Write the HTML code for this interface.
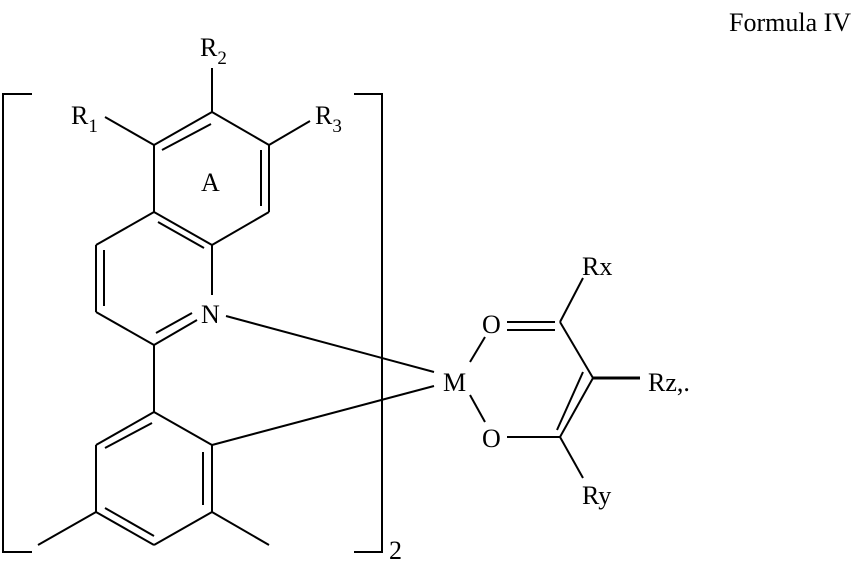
<!DOCTYPE html>
<html><head><style>
html,body{margin:0;padding:0;background:#fff;}
svg{display:block;}
svg text{font-family:"Liberation Serif","DejaVu Serif","Times New Roman",serif;font-size:26px;fill:#000;}
</style></head><body>
<svg width="868" height="561" viewBox="0 0 868 561" xmlns="http://www.w3.org/2000/svg" font-family="Liberation Serif, DejaVu Serif, serif">
<g stroke="#000" stroke-width="2" fill="none" stroke-linecap="butt">
<polyline points="32,94 3,94 3,552 32,552"/>
<polyline points="354,94 382,94 382,552 354,552"/>
<line x1="212" y1="68" x2="212" y2="112"/>
<line x1="154" y1="145" x2="212" y2="112"/>
<line x1="212" y1="112" x2="269" y2="145"/>
<line x1="269" y1="145" x2="269" y2="212"/>
<line x1="269" y1="212" x2="212" y2="245"/>
<line x1="212" y1="245" x2="154" y2="212"/>
<line x1="154" y1="212" x2="154" y2="145"/>
<line x1="162" y1="150" x2="211" y2="124"/>
<line x1="261" y1="150" x2="261" y2="206"/>
<line x1="158" y1="222" x2="204" y2="248"/>
<line x1="105" y1="117" x2="154" y2="145"/>
<line x1="269" y1="145" x2="310" y2="121"/>
<line x1="154" y1="212" x2="96" y2="245"/>
<line x1="96" y1="245" x2="96" y2="312"/>
<line x1="104" y1="250" x2="104" y2="306"/>
<line x1="96" y1="312" x2="154" y2="345"/>
<line x1="154" y1="345" x2="197" y2="320"/>
<line x1="156" y1="333" x2="192" y2="313"/>
<line x1="212" y1="245" x2="212" y2="295"/>
<line x1="226" y1="316" x2="434" y2="372"/>
<line x1="154" y1="345" x2="154" y2="412"/>
<line x1="154" y1="412" x2="212" y2="445"/>
<line x1="212" y1="445" x2="212" y2="512"/>
<line x1="212" y1="512" x2="154" y2="545"/>
<line x1="154" y1="545" x2="96" y2="512"/>
<line x1="96" y1="512" x2="96" y2="445"/>
<line x1="96" y1="445" x2="154" y2="412"/>
<line x1="105" y1="448" x2="152" y2="423"/>
<line x1="203" y1="452" x2="203" y2="505"/>
<line x1="105" y1="508" x2="154" y2="536"/>
<line x1="96" y1="512" x2="38" y2="545"/>
<line x1="212" y1="512" x2="269" y2="545"/>
<line x1="212" y1="445" x2="434" y2="386"/>
<line x1="485" y1="337" x2="470" y2="362"/>
<line x1="470" y1="395" x2="485" y2="422"/>
<line x1="507" y1="322" x2="555" y2="322"/>
<line x1="507" y1="330" x2="555" y2="330"/>
<line x1="560" y1="322" x2="583" y2="278"/>
<line x1="560" y1="322" x2="593" y2="378"/>
<line x1="593" y1="378" x2="640" y2="378" stroke-width="3"/>
<line x1="593" y1="378" x2="560" y2="437"/>
<line x1="583" y1="372" x2="557" y2="430"/>
<line x1="507" y1="437" x2="560" y2="437"/>
<line x1="560" y1="437" x2="583" y2="478"/>
</g>
<text x="729" y="31">Formula IV</text>
<text x="200" y="56">R<tspan font-size="19" dy="8">2</tspan></text>
<text x="71" y="124">R<tspan font-size="19" dy="8">1</tspan></text>
<text x="315" y="124">R<tspan font-size="19" dy="8">3</tspan></text>
<text x="201" y="191">A</text>
<text x="201" y="323">N</text>
<text x="443" y="391">M</text>
<text x="482" y="333">O</text>
<text x="482" y="447">O</text>
<text x="582" y="275">Rx</text>
<text x="648" y="391">Rz,.</text>
<text x="582" y="504">Ry</text>
<text x="389" y="559" font-size="19">2</text>
</svg>
</body></html>
